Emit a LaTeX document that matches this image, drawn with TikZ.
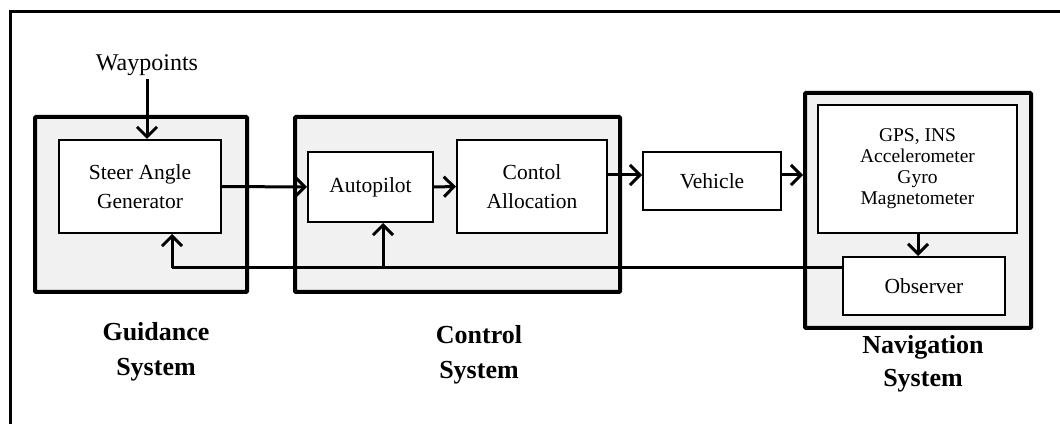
\documentclass[tikz,border=0pt]{standalone}
\usepackage{fontspec}
\setmainfont{Liberation Serif}
\usetikzlibrary{arrows.meta}
\definecolor{boxgray}{HTML}{F1F1F1}
\tikzset{
  x=1pt, y=1pt,
  group/.style={draw, line width=4pt, fill=boxgray, rounded corners=1pt,
    inner sep=0pt, minimum width=#1},
  block/.style={draw, line width=2pt, fill=white, inner sep=0pt, align=center,
    font=\fontsize{21.5}{29}\selectfont},
  caption/.style={align=center, font=\bfseries\fontsize{26}{35}\selectfont},
  flow/.style={line width=3pt, -{Straight Barb[length=10pt,width=20pt,line width=3pt]}},
  wire/.style={line width=3pt},
}
\begin{document}
\begin{tikzpicture}
\useasboundingbox (0,0) rectangle (1060,423);
% page frame (top and left edges)
\draw[line width=3pt] (10,-5) -- (10,411) -- (1065,411);

% subsystem containers
\node[group=212pt, minimum height=175pt] (guid) at (141,218.5) {};
\node[group=325pt, minimum height=175pt] (ctrl) at (457.5,218.5) {};
\node[group=226pt, minimum height=235pt] (nav)  at (918,212.5) {};

% blocks
\node[block, minimum width=162pt, minimum height=93pt] (steer) at (140,236.5) {Steer Angle\\Generator};
\node[block, minimum width=125pt, minimum height=70pt] (auto) at (370.5,236) {Autopilot};
\node[block, minimum width=150pt, minimum height=93pt] (alloc) at (532,236.5) {Contol\\Allocation};
\node[block, minimum width=138pt, minimum height=58pt] (veh) at (712,242) {Vehicle};
\node[block, minimum width=199pt, minimum height=128pt,
      font=\fontsize{19.5}{21}\selectfont] (sens) at (917.5,254)
      {GPS, INS\\Accelerometer\\Gyro\\Magnetometer};
\node[block, minimum width=162pt, minimum height=58pt] (obs) at (924,137) {Observer};

% input
\node[font=\fontsize{24}{28}\selectfont] (wp) at (147,358) {Waypoints};

% captions
\node[caption] (guidcap) at (156,71) {Guidance\\System};
\node[caption] (ctrlcap) at (479,68) {Control\\System};
\node[caption, font=\bfseries\fontsize{26}{33}\selectfont] (navcap) at (923,59.5) {Navigation\\System};

% forward path
\draw[flow] (wp.south) -- (wp.south |- steer.north);
\draw[flow] (steer.east) -- (auto.west);
\draw[flow] (auto.east) -- (alloc.west);
\draw[flow] ([yshift=11.5pt]alloc.east) -- ([yshift=6pt]veh.west);
\draw[flow] ([yshift=6pt]veh.east) -- ([yshift=6pt]veh.east -| nav.west);
\draw[flow] (918,0 |- sens.south) -- (918,0 |- obs.north);

% feedback path
\coordinate (fbR) at ([yshift=18pt]obs.west);
\coordinate (fbL) at (172,0 |- fbR);
\coordinate (fbM) at (383,0 |- fbR);
\draw[wire] (fbR) -- (fbL);
\draw[flow] (fbL) -- (fbL |- steer.south);
\draw[flow] (fbM) -- (fbM |- auto.south);
\end{tikzpicture}
\end{document}
